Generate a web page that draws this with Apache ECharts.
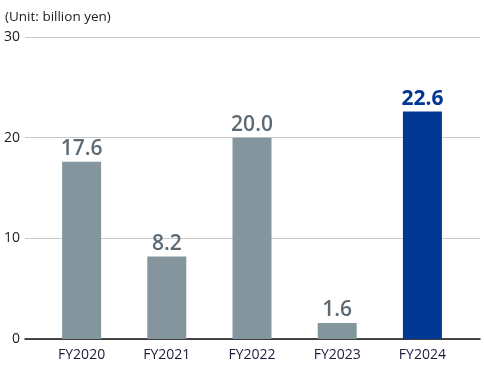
<!DOCTYPE html>
<html><head><meta charset="utf-8">
<script src="https://cdn.jsdelivr.net/npm/echarts@6/dist/echarts.min.js"></script>
<style>html,body{margin:0;padding:0;background:#fff}#c{width:484px;height:369px}</style>
</head><body><div id="c"></div>
<script>
const categories = ['FY2020','FY2021','FY2022','FY2023','FY2024'];
const values = [17.6, 8.2, 20.0, 1.6, 22.6];
const yTicks = [0, 10, 20, 30];
const unitLabel = '(Unit: billion yen)';

const font = '"Open Sans", "Noto Sans", sans-serif';
const chart = echarts.init(document.getElementById('c'));
chart.setOption({
  animation: false,
  textStyle: {fontFamily: font},
  title: {text: unitLabel, left: 0, top: 5, textStyle: {fontSize: 13.5, fontWeight: 'normal', color: '#222', fontFamily: font}},
  grid: [
    {left: 25, right: 4, top: 37, bottom: 30},
    {left: 39, right: 19, top: 37, bottom: 30}
  ],
  xAxis: [
    {type: 'category', gridIndex: 0, data: categories, axisLine: {show: true, lineStyle: {color: '#111', width: 1.5}}, axisTick: {show: false}, axisLabel: {show: false}},
    {type: 'category', gridIndex: 1, data: categories, axisLine: {show: false}, axisTick: {show: false},
     axisLabel: {color: '#1c1c3c', fontSize: 14, margin: 9, fontFamily: font}}
  ],
  yAxis: [
    {type: 'value', gridIndex: 0, min: yTicks[0], max: yTicks[yTicks.length-1], interval: 10,
     axisLine: {show: false}, axisTick: {show: false},
     axisLabel: {color: '#222', fontSize: 14, margin: 5, fontFamily: font},
     splitLine: {lineStyle: {color: '#c8c8c8', width: 1}}},
    {type: 'value', gridIndex: 1, min: yTicks[0], max: yTicks[yTicks.length-1], interval: 10, show: false, splitLine: {show: false}}
  ],
  series: [{
    type: 'bar', xAxisIndex: 1, yAxisIndex: 1, barWidth: 39,
    data: values.map((v, i) => {
      const last = i === values.length - 1;
      return {
        value: v,
        itemStyle: {color: last ? '#003894' : '#84959e'},
        label: {show: true, position: 'top', distance: 2, formatter: p => p.value.toFixed(1),
          color: last ? '#003591' : '#5d6a74', fontSize: 21, fontWeight: last ? 'bold' : 600, fontFamily: font}
      };
    })
  }]
});
</script></body></html>
